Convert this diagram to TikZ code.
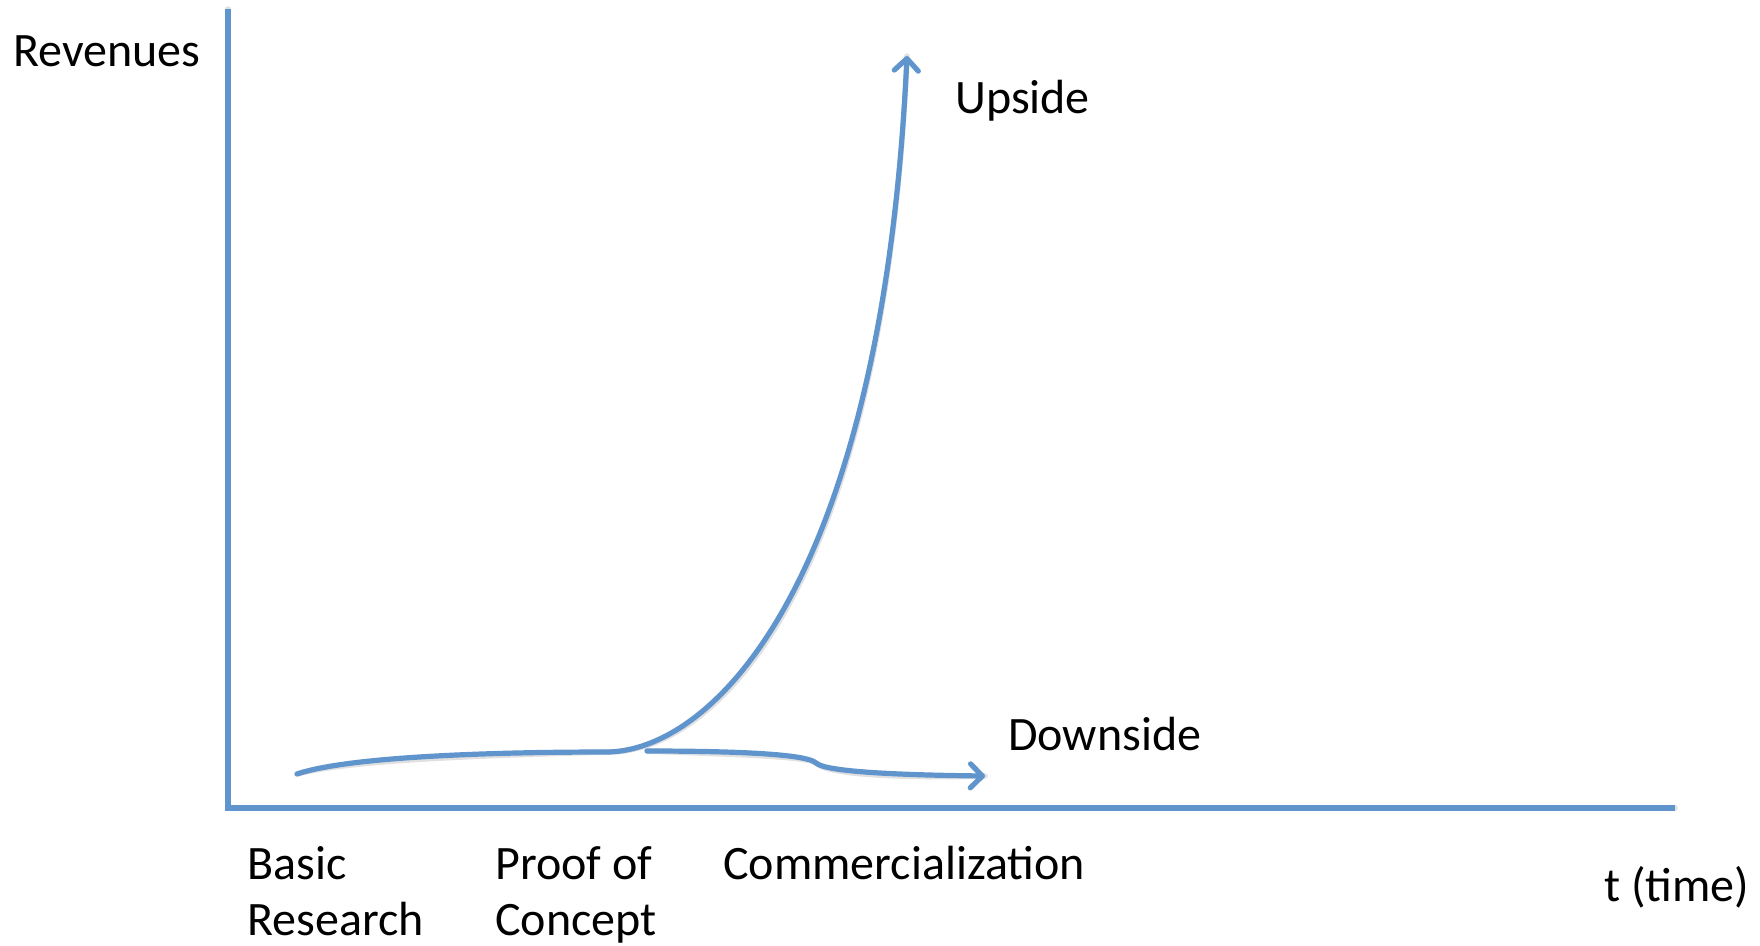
\documentclass[tikz,border=0pt]{standalone}
\usepackage{fontspec}
\setmainfont{Carlito}
\usetikzlibrary{arrows.meta}
\definecolor{lineblue}{RGB}{96,148,205}
\tikzset{
  curve/.style={draw=lineblue, line width=5.2pt, line cap=round},
  shadowline/.style={draw=black, opacity=0.12, line width=5.5pt, line cap=round},
  tip/.style={-{Straight Barb[length=12pt,width=24pt,line cap=round,line join=round]}},
  lbl/.style={font=\fontsize{48}{56}\selectfont, inner sep=0pt, text=black, anchor=base west},
}
\begin{document}
\begin{tikzpicture}[x=1pt,y=-1pt]
\useasboundingbox (0,0) rectangle (1760,945);
% coordinates
\coordinate (ytop) at (228,9);
\coordinate (orig) at (228,808);
\coordinate (xend) at (1675,808);
\coordinate (cs) at (297,774);
\coordinate (cm) at (606,752);
\coordinate (up) at (907,56);
\coordinate (ds) at (647,751);
\coordinate (dk) at (816,763);
\coordinate (de) at (985,776);
% shadows
\begin{scope}[shift={(2,3)}]
\draw[shadowline] (ytop) -- (orig) -- (xend);
\draw[shadowline] (cs) .. controls (350,756) and (500,752) .. (cm) .. controls (710,752) and (882,590) .. (up);
\draw[shadowline] (ds) .. controls (720,751) and (806,753) .. (dk) .. controls (826,772) and (900,775) .. (de);
\end{scope}
% axes
\draw[curve, line cap=butt] (ytop) -- (orig) -- (xend);
% upside curve
\draw[curve, tip] (cs) .. controls (350,756) and (500,752) .. (cm) .. controls (710,752) and (882,590) .. (up);
% downside curve
\draw[curve, tip] (ds) .. controls (720,751) and (806,753) .. (dk) .. controls (826,772) and (900,775) .. (de);
% labels
\node[lbl] (rev) at (13,66) {Revenues};
\node[lbl] (ups) at (955,113) {Upside};
\node[lbl] (dns) at (1008,750) {Downside};
\node[lbl] (basic) at (247,879) {Basic};
\node[lbl] (research) at (247,935) {Research};
\node[lbl] (proof) at (495,879) {Proof of};
\node[lbl] (concept) at (495,935) {Concept};
\node[lbl] (comm) at (723,879) {Commercialization};
\node[lbl] (time) at (1604,901) {t (time)};
\end{tikzpicture}
\end{document}
